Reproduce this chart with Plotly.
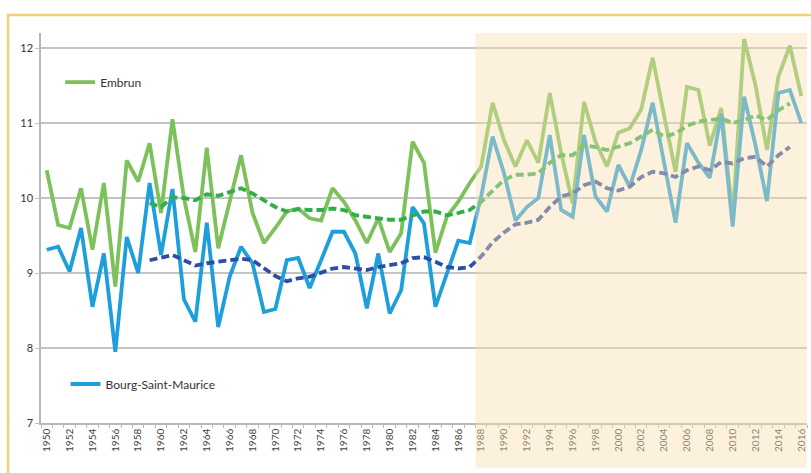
import plotly.graph_objects as go

years = list(range(1950, 2017))

embrun = [10.37, 9.64, 9.6, 10.13, 9.31, 10.2, 8.82, 10.5, 10.22, 10.73,
          9.8, 11.05, 10.0, 9.28, 10.67, 9.33, 9.95, 10.57, 9.8, 9.4,
          9.6, 9.82, 9.86, 9.73, 9.7, 10.13, 9.95, 9.7, 9.4, 9.73,
          9.28, 9.53, 10.75, 10.47, 9.27, 9.75, 9.95, 10.2, 10.42, 11.27,
          10.77, 10.42, 10.77, 10.47, 11.4, 10.6, 9.93, 11.28, 10.75, 10.42,
          10.87, 10.93, 11.18, 11.87, 11.1, 10.35, 11.48, 11.44, 10.7, 11.2,
          9.75, 12.12, 11.5, 10.64, 11.62, 12.03, 11.36]

bourg = [9.31, 9.35, 9.02, 9.6, 8.55, 9.26, 7.95, 9.48, 9.0, 10.2,
         9.24, 10.12, 8.65, 8.35, 9.67, 8.28, 8.95, 9.35, 9.13, 8.48,
         8.52, 9.17, 9.2, 8.8, 9.17, 9.55, 9.55, 9.26, 8.53, 9.26,
         8.46, 8.77, 9.88, 9.66, 8.55, 9.0, 9.43, 9.4, 10.02, 10.82,
         10.33, 9.7, 9.88, 10.0, 10.84, 9.84, 9.75, 10.84, 10.02, 9.82,
         10.44, 10.15, 10.64, 11.27, 10.47, 9.67, 10.73, 10.47, 10.27, 11.12,
         9.62, 11.35, 10.7, 9.96, 11.4, 11.44, 11.0]

# 10-year moving averages (dashed), defined 1959-2015
embrun_ma = [None] * 9 + [
    9.93, 9.88, 10.01, 10.0, 9.97, 10.05, 10.03, 10.08, 10.13, 10.06,
    9.97, 9.88, 9.82, 9.85, 9.84, 9.84, 9.86, 9.84, 9.77, 9.75,
    9.73, 9.71, 9.71, 9.77, 9.82, 9.82, 9.77, 9.8, 9.84, 9.95,
    10.1, 10.24, 10.31, 10.31, 10.33, 10.47, 10.57, 10.57, 10.7, 10.68,
    10.64, 10.68, 10.73, 10.82, 10.91, 10.82, 10.86, 10.96, 11.02, 11.04,
    11.06, 11.0, 11.04, 11.1, 11.04, 11.17, 11.26] + [None]

bourg_ma = [None] * 9 + [
    9.17, 9.2, 9.24, 9.17, 9.1, 9.13, 9.15, 9.17, 9.19, 9.17,
    9.06, 8.96, 8.89, 8.93, 8.95, 9.0, 9.06, 9.08, 9.06, 9.04,
    9.08, 9.1, 9.13, 9.2, 9.21, 9.15, 9.08, 9.06, 9.08, 9.22,
    9.41, 9.54, 9.65, 9.67, 9.71, 9.88, 10.02, 10.06, 10.17, 10.22,
    10.13, 10.1, 10.15, 10.28, 10.35, 10.33, 10.28, 10.37, 10.42, 10.37,
    10.48, 10.46, 10.53, 10.55, 10.42, 10.57, 10.68] + [None]

tick_years = list(range(1950, 2017, 2))
tick_labels = [str(y) for y in tick_years]
y_ticks = [7, 8, 9, 10, 11, 12]
shade_start, shade_end = 1987.5, 2016.5

GREEN = "#7cc15a"
GREEN_DARK = "#2fae4a"
BLUE = "#1e9fdc"
BLUE_DARK = "#2f4da6"

fig = go.Figure()
fig.add_trace(go.Scatter(x=years, y=embrun, mode="lines", name="Embrun",
                         line=dict(color=GREEN, width=3.8), legend="legend"))
fig.add_trace(go.Scatter(x=years, y=bourg, mode="lines", name="Bourg-Saint-Maurice",
                         line=dict(color=BLUE, width=3.8), legend="legend2"))
fig.add_trace(go.Scatter(x=years, y=embrun_ma, mode="lines", showlegend=False,
                         line=dict(color=GREEN_DARK, width=3.8, dash="8px,4px")))
fig.add_trace(go.Scatter(x=years, y=bourg_ma, mode="lines", showlegend=False,
                         line=dict(color=BLUE_DARK, width=3.8, dash="8px,4px")))

# shaded recent period (drawn over the lines, as in the reference)
fig.add_shape(type="rect", xref="x", yref="paper", x0=shade_start, x1=shade_end,
              y0=-0.115, y1=1, layer="above", line_width=0,
              fillcolor="rgba(249,222,176,0.43)")
# gold frame around the chart
fig.add_shape(type="rect", xref="paper", yref="paper", x0=-0.043, x1=1.05,
              y0=-0.3, y1=1.046, layer="above",
              line=dict(color="#f3d078", width=2.5), fillcolor="rgba(0,0,0,0)")

fig.update_layout(
    width=811, height=473,
    margin=dict(l=41, r=4, t=33, b=50),
    paper_bgcolor="white", plot_bgcolor="white",
    font=dict(family="Lato, Open Sans, sans-serif", color="#333333"),
    legend=dict(x=0.025, y=0.874, xanchor="left", yanchor="middle",
                bgcolor="rgba(0,0,0,0)", font=dict(size=12, color="#333333"),
                itemwidth=30),
    legend2=dict(x=0.032, y=0.1, xanchor="left", yanchor="middle",
                 bgcolor="rgba(0,0,0,0)", font=dict(size=12, color="#333333"),
                 itemwidth=30),
    xaxis=dict(range=[1949.5, 2016.5], tickmode="array", tickvals=tick_years,
               ticktext=tick_labels, tickangle=-90, showgrid=False,
               tickfont=dict(size=10, color="#404040"),
               showline=True, linecolor="#b8b8b8", linewidth=1.5,
               ticks="", zeroline=False,
               minor=dict(tick0=1949.5, dtick=1, ticks="outside", ticklen=3,
                          tickcolor="#b8b8b8", showgrid=False)),
    yaxis=dict(range=[7, 12.2], tickvals=y_ticks, showgrid=True,
               gridcolor="#c4c4c4", gridwidth=1.5,
               tickfont=dict(size=11, color="#333333"),
               ticks="outside", ticklen=4, tickcolor="#c4c4c4",
               showline=True, linecolor="#b8b8b8", linewidth=1.5,
               zeroline=False),
)

fig.write_html(
    "out.html",
    config={"displayModeBar": False},
    post_script="document.body.style.margin='0';document.body.style.overflow='hidden';",
)
